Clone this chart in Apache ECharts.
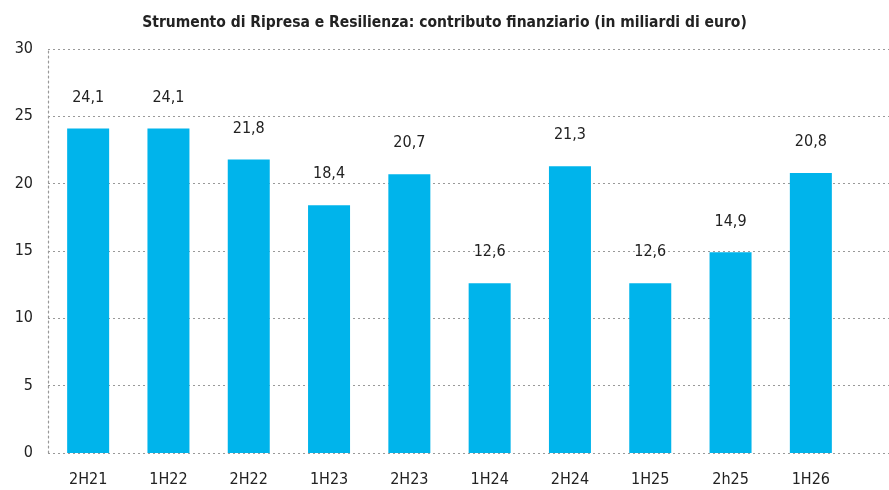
<!DOCTYPE html>
<html><head><meta charset="utf-8">
<script src="https://cdn.jsdelivr.net/npm/echarts@6/dist/echarts.min.js"></script>
<style>html,body{margin:0;padding:0;background:#fff}#c{width:889px;height:490px}</style>
</head><body><div id="c"></div>
<script>
const categories = ['2H21','1H22','2H22','1H23','2H23','1H24','2H24','1H25','2h25','1H26'];
const values = [24.1, 24.1, 21.8, 18.4, 20.7, 12.6, 21.3, 12.6, 14.9, 20.8];
const yTicks = [0, 5, 10, 15, 20, 25, 30];
const title = 'Strumento di Ripresa e Resilienza: contributo finanziario (in miliardi di euro)';

const chart = echarts.init(document.getElementById('c'));
const font = 'DejaVu Sans Condensed';
const fmt = v => String(v).replace('.', ',');
chart.setOption({
  animation: false,
  title: { text: title, left: 'center', top: 10, textStyle: { fontFamily: font, fontSize: 15.5, fontWeight: 'bold', color: '#222' } },
  grid: [
    { left: 48, top: 49, width: 803, height: 404 },
    { left: 48, top: 49, right: 0, height: 404 }
  ],
  xAxis: [
    { type: 'category', gridIndex: 0, data: categories, axisLine: { show: false }, axisTick: { show: false },
      axisLabel: { fontFamily: font, fontSize: 16, color: '#222', margin: 19 } },
    { type: 'value', gridIndex: 1, show: false }
  ],
  yAxis: [
    { type: 'value', gridIndex: 0, min: 0, max: 30, interval: 5, splitLine: { show: false },
      axisLine: { show: true, lineStyle: { color: '#999', type: [2, 3], width: 1.2 } }, axisTick: { show: false },
      axisLabel: { fontFamily: font, fontSize: 16, color: '#222', margin: 15, formatter: v => yTicks.includes(v) ? String(v) : '' } },
    { type: 'value', gridIndex: 1, min: 0, max: 30, interval: 5, axisLabel: { show: false }, axisLine: { show: false }, axisTick: { show: false },
      splitLine: { show: true, lineStyle: { color: '#999', type: [2, 3], width: 1.2 } } }
  ],
  series: [{
    type: 'bar', xAxisIndex: 0, yAxisIndex: 0, data: values, barWidth: 42,
    itemStyle: { color: '#00b4eb' },
    label: { show: true, position: 'top', distance: 23, fontFamily: font, fontSize: 16, color: '#222', formatter: p => fmt(p.value) }
  }]
});
</script></body></html>
